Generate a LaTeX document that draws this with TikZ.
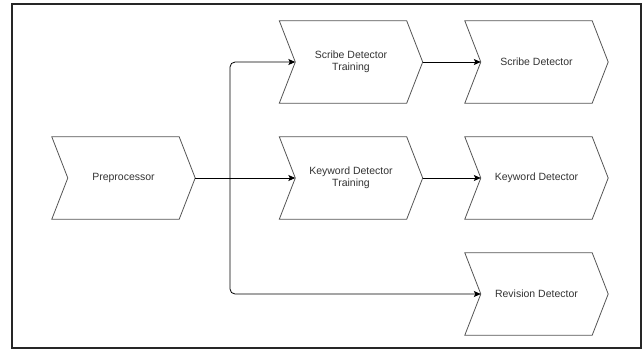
\documentclass[tikz,border=0pt]{standalone}
\usepackage{fontspec}
\setmainfont{Liberation Sans}
\usetikzlibrary{arrows.meta}
\definecolor{shapegray}{HTML}{555555}
\definecolor{textgray}{HTML}{333333}
\begin{document}
\begin{tikzpicture}[x=1pt,y=-1pt,
  chev/.style={minimum width=143pt, minimum height=82pt, inner sep=0pt, align=center,
    font=\fontsize{10.5}{12.5}\selectfont, text=textgray},
  chevline/.style={draw=shapegray, line width=0.8pt, line join=miter},
  arr/.style={draw=black, line width=0.8pt, -{Stealth[length=7pt,width=6pt,inset=1.5pt]}}]
\useasboundingbox (0,0) rectangle (642,349);
\draw[line width=1.6pt, draw=black!85] (12,4) rectangle (641,348);

\node[chev] (pre) at (123.5,178) {Preprocessor};
\node[chev] (sdt) at (351,62) {Scribe Detector\\Training};
\node[chev] (sd)  at (536.5,62) {Scribe Detector};
\node[chev] (kdt) at (351,178) {Keyword Detector\\Training};
\node[chev] (kd)  at (536.5,178) {Keyword Detector};
\node[chev] (rd)  at (536.5,294) {Revision Detector};

\foreach \n in {pre,sdt,sd,kdt,kd,rd}
  \draw[chevline] (\n.north west) -- ([xshift=-16pt]\n.north east) -- (\n.east)
    -- ([xshift=-16pt]\n.south east) -- (\n.south west) -- ([xshift=16pt]\n.west) -- cycle;

\coordinate (split) at (230,178);
\draw[arr] (pre.east) -- ([xshift=16pt]kdt.west);
\draw[arr, rounded corners=5pt] (split) |- ([xshift=16pt]sdt.west);
\draw[arr, rounded corners=5pt] (split) |- ([xshift=16pt]rd.west);
\draw[arr] (sdt.east) -- ([xshift=16pt]sd.west);
\draw[arr] (kdt.east) -- ([xshift=16pt]kd.west);
\end{tikzpicture}
\end{document}
